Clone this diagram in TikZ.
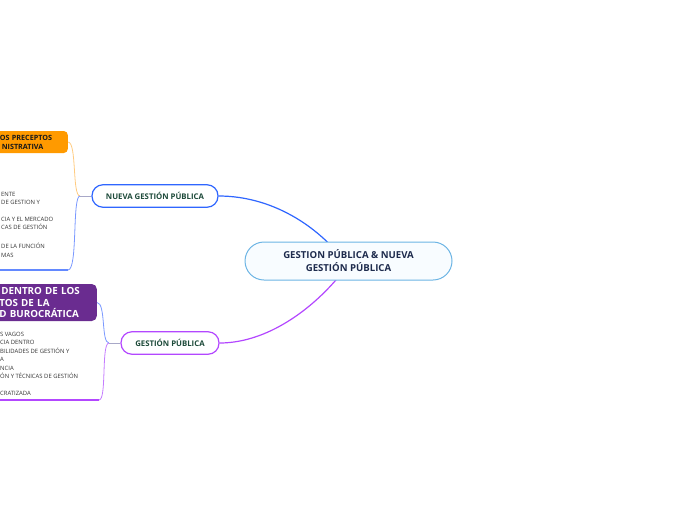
\documentclass[tikz,border=0pt]{standalone}
\usepackage{fontspec}
\setmainfont{Open Sans}
\usetikzlibrary{backgrounds}
\definecolor{cstroke}{HTML}{6CB4E4}
\definecolor{cfill}{HTML}{F8FCFF}
\definecolor{ctext}{HTML}{1E2B4D}
\definecolor{tgreen}{HTML}{1D4A3A}
\definecolor{mblue}{HTML}{2F66FF}
\definecolor{mpurple}{HTML}{B347FF}
\definecolor{lblue}{HTML}{7A98FF}
\definecolor{lpurple}{HTML}{C57DFF}
\definecolor{lorange}{HTML}{FFCB80}
\definecolor{obox}{HTML}{FF9A00}
\definecolor{pbox}{HTML}{6A2C90}
\definecolor{stub}{HTML}{A8A8C8}
\definecolor{ltext}{HTML}{333333}
\tikzset{
  centernode/.style={draw=cstroke, fill=cfill, line width=1pt, rounded corners=19pt,
    minimum width=207pt, minimum height=38pt, align=center, text=ctext,
    font=\bfseries\fontsize{9.6}{13}\selectfont, inner sep=0pt},
  topicnode/.style={fill=white, line width=1.2pt, rounded corners=11pt,
    minimum height=22.5pt, align=center, text=tgreen,
    font=\bfseries\fontsize{7.8}{9}\selectfont, inner sep=0pt},
  listtext/.style={anchor=north west, align=left, text=ltext, inner sep=0pt,
    font=\fontsize{5.9}{8.5}\selectfont},
  mainlink/.style={line width=1.2pt},
  sublink/.style={line width=0.8pt},
}
\begin{document}
\begin{tikzpicture}[x=1pt,y=-1pt]
\useasboundingbox (0,0) rectangle (696,520);
\node[centernode] (c) at (348.5,261) {GESTION PÚBLICA \& NUEVA\\GESTIÓN PÚBLICA};
\node[topicnode, draw=mblue, minimum width=126pt] (nueva) at (155,196) {NUEVA GESTIÓN PÚBLICA};
\node[topicnode, draw=mpurple, minimum width=98pt] (gest) at (170,343) {GESTIÓN PÚBLICA};

% orange sub topic
\node[fill=obox, rounded corners=4pt, anchor=east, minimum height=22pt, text width=72pt,
  inner xsep=4pt, inner ysep=0pt, align=left, text=black!90,
  font=\bfseries\fontsize{7.2}{9}\selectfont] (ob) at (68,142) {\hspace*{8pt}OS PRECEPTOS\\\hspace*{10pt}NISTRATIVA};
% purple sub topic
\node[fill=pbox, rounded corners=5pt, anchor=east, minimum height=37pt, text width=105pt,
  inner xsep=4pt, inner ysep=0pt, align=left, text=white,
  font=\bfseries\fontsize{9.8}{11.6}\selectfont] (pb) at (97,302.5) {\hspace*{13.5pt}DENTRO DE LOS\\\hspace*{11.5pt}TOS DE LA\\\hspace*{11.5pt}D BUROCRÁTICA};

% blue list under nueva
\node[listtext] (t1) at (1,192) {ENTE\\DE GESTION Y};
\node[listtext] (t2) at (1,217) {CIA Y EL MERCADO\\CAS DE GESTIÓN};
\node[listtext] (t3) at (1,243) {DE LA FUNCIÓN\\MAS};
% purple list
\node[listtext] (t4) at (0,332) {S VAGOS\\CIA DENTRO\\BILIDADES DE GESTIÓN Y\\A\\NCIA\\ÓN Y TÉCNICAS DE GESTIÓN\\\\CRATIZADA};

\coordinate (bn) at (80,196);
\coordinate (bg) at (109,343);
\coordinate (ul1) at (68,270);
\coordinate (ul1e) at (-5,270);
\coordinate (ul2) at (99,400);
\coordinate (ul2e) at (-5,400);
\coordinate (ce1) at (345,262);
\coordinate (ce2) at (350,262);

\begin{scope}[on background layer]
\draw[mainlink, mblue] (nueva.east) .. controls (272,196) and (318,226) .. (ce1);
\draw[mainlink, mpurple] (gest.east) .. controls (272,343) and (322,302) .. (ce2);
\draw[sublink, stub] (nueva.west) -- (bn);
\draw[sublink, stub] (gest.west) -- (bg);
\draw[sublink, lorange] (bn) .. controls (72,196) and (77,142) .. (ob.east);
\draw[sublink, lblue] (bn) .. controls (72,196) and (78,270) .. (ul1);
\draw[line width=1.6pt, lblue!70!mblue] (ul1) -- (ul1e);
\draw[sublink, lblue] (bg) .. controls (101,343) and (106,303) .. (pb.east);
\draw[sublink, lpurple] (bg) .. controls (101,343) and (107,400) .. (ul2);
\draw[line width=1.6pt, mpurple] (ul2) -- (ul2e);
\end{scope}
\end{tikzpicture}
\end{document}
